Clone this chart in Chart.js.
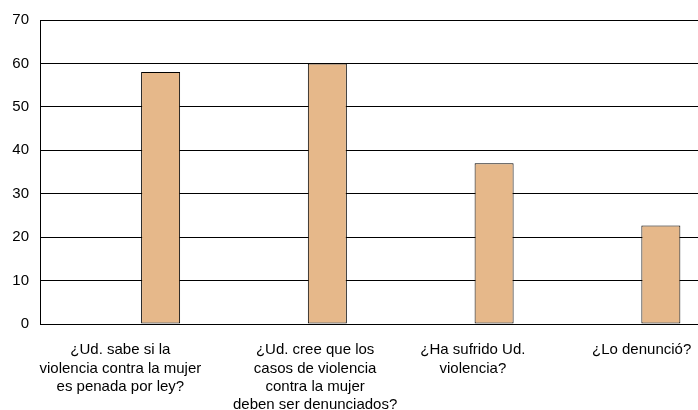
<!DOCTYPE html>
<html>
<head>
<meta charset="utf-8">
<script src="https://cdn.jsdelivr.net/npm/chart.js@4.4.0/dist/chart.umd.min.js"></script>
<style>
  html, body { margin: 0; padding: 0; background: #fff; overflow: hidden; }
  #wrap { width: 698px; height: 410px; overflow: hidden; position: relative; }
  #box { width: 707px; height: 410px; position: absolute; left: 0; top: 0; }
</style>
</head>
<body>
<div id="wrap"><div id="box"><canvas id="chart"></canvas></div></div>
<script>
const categories = [
    ["¿Ud. sabe si la", "violencia contra la mujer", "es penada por ley?"],
    ["¿Ud. cree que los", "casos de violencia", "contra la mujer", "deben ser denunciados?"],
    ["¿Ha sufrido Ud.", "violencia?"],
    ["¿Lo denunció?"]
];
// first series is empty in the original (keeps the bar on the right of each slot)
const serieVacia = [null, null, null, null];
const respuestas = [58, 60, 37, 22.7];
const yTicks = [0, 10, 20, 30, 40, 50, 60, 70];

// the original's category labels are not quite centred on their slots
const labelShift = [-3, 25, 16, 18];

Chart.defaults.font.family = "Arial, 'Liberation Sans', Helvetica, sans-serif";
Chart.defaults.font.size = 15;
Chart.defaults.color = "#000";

// draws the multi-line category labels under the x axis
const xLabels = {
    id: "xLabels",
    afterDraw(chart) {
        const c = chart.ctx;
        const xs = chart.scales.x;
        c.save();
        c.font = "15px Arial, 'Liberation Sans', sans-serif";
        c.fillStyle = "#000";
        c.textAlign = "center";
        c.textBaseline = "middle";
        chart.data.labels.forEach((lines, i) => {
            const x = xs.getPixelForTick(i) + labelShift[i];
            lines.forEach((line, j) => {
                c.fillText(line, x, xs.top + 26 + j * 18.4);
            });
        });
        c.restore();
    }
};

const ctx = document.getElementById("chart").getContext('2d');
const chart = new Chart(ctx, {
    type: "bar",
    data: {
        labels: categories,
        datasets: [
            {
                label: "No",
                data: serieVacia,
                backgroundColor: "rgba(0,0,0,0)",
            },
            {
                label: "Sí",
                data: respuestas,
                backgroundColor: "rgb(230, 184, 138)",
                borderColor: "#000",
                borderWidth: 1,
                borderSkipped: false,
            }
        ]
    },
    options: {
        responsive: true,
        maintainAspectRatio: false,
        animation: false,
        layout: {
            padding: { top: 11, left: 0, right: 0, bottom: 0 }
        },
        datasets: {
            bar: {
                categoryPercentage: 0.893,
                barPercentage: 0.524,
            }
        },
        scales: {
            x: {
                grid: { display: false },
                border: { color: "#000", width: 1 },
                ticks: { display: false },
                afterFit: (axis) => { axis.height = 86; },
            },
            y: {
                min: 0,
                max: 70,
                afterBuildTicks: (axis) => {
                    axis.ticks = yTicks.map(v => ({ value: v }));
                },
                afterFit: (axis) => { axis.width = 40; },
                grid: { color: "#000", lineWidth: 1, drawTicks: false },
                border: { color: "#000", width: 1 },
                ticks: {
                    padding: 11,
                    font: { size: 15 },
                },
            },
        },
        plugins: {
            legend: { display: false },
            tooltip: { enabled: false },
        }
    },
    plugins: [xLabels]
});
</script>
</body>
</html>
